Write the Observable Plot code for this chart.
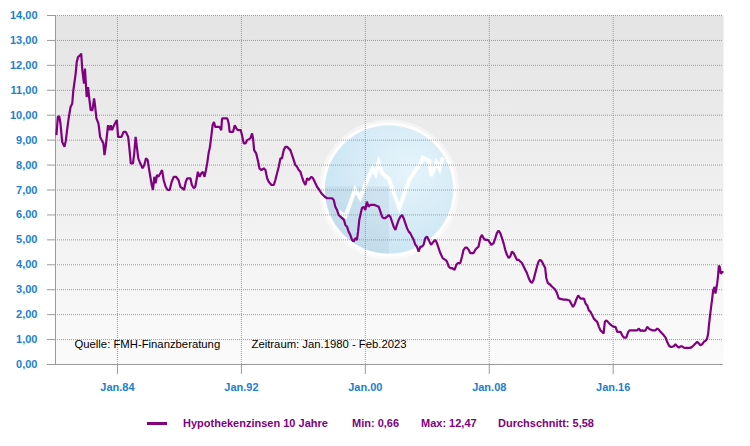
<!DOCTYPE html>
<html>
<head>
<meta charset="utf-8">
<script src="https://cdn.jsdelivr.net/npm/d3@7"></script>
<script src="https://cdn.jsdelivr.net/npm/@observablehq/plot@0.6"></script>
<style>
  html, body { margin: 0; padding: 0; background: #ffffff; }
  body { width: 750px; height: 446px; overflow: hidden; font-family: "Liberation Sans", Arial, sans-serif; }
  #legend { position: relative; height: 46px; width: 750px; }
  #legend .sw { position: absolute; left: 147px; top: 22px; width: 20px; height: 3px; background: #800080; }
  #legend span.t { position: absolute; top: 17px; font: bold 11px "Liberation Sans", Arial, sans-serif; color: #800080; white-space: nowrap; }
</style>
</head>
<body>
<div id="chart"></div>
<div id="legend"></div>
<script>
// ---- data (decimal year, rate in %) ----
const yearsDecimal = [
  1980.06,1980.15,1980.24,1980.32,1980.43,1980.58,1980.67,1980.76,1980.86,1980.97,
  1981.08,1981.15,1981.30,1981.37,1981.45,1981.58,1981.66,1981.73,1981.84,1981.90,
  1982.01,1982.10,1982.18,1982.27,1982.38,1982.49,1982.55,1982.64,1982.77,1982.88,1982.98,
  1983.09,1983.16,1983.24,1983.31,1983.39,1983.48,1983.57,1983.65,1983.78,1983.89,1983.96,
  1984.04,1984.26,1984.39,1984.54,1984.69,1984.78,1984.86,1985.00,1985.08,1985.17,1985.25,
  1985.34,1985.47,1985.62,1985.73,1985.84,1985.95,1986.03,1986.12,1986.21,1986.29,1986.38,
  1986.46,1986.55,1986.64,1986.77,1986.88,1986.98,1987.11,1987.24,1987.37,1987.50,1987.63,
  1987.78,1987.94,1988.06,1988.19,1988.30,1988.41,1988.50,1988.71,1988.80,1988.93,1989.02,
  1989.10,1989.19,1989.30,1989.41,1989.51,1989.62,1989.71,1989.79,1989.88,1989.97,1990.05,
  1990.14,1990.23,1990.31,1990.59,1990.70,1990.75,1991.09,1991.18,1991.24,1991.46,1991.57,
  1991.68,1991.78,1991.96,
  1992.04,1992.15,1992.26,1992.37,1992.58,1992.69,1992.75,1992.82,1992.95,1993.08,1993.16,
  1993.29,1993.44,1993.55,1993.66,1993.76,1993.94,1994.09,1994.19,1994.30,1994.41,1994.52,
  1994.62,1994.73,1994.84,1994.95,1995.05,1995.16,1995.27,1995.38,1995.48,1995.59,1995.70,
  1995.81,1995.91,1996.02,1996.13,1996.24,1996.34,1996.52,1996.62,1996.73,1996.88,1997.03,
  1997.16,1997.27,1997.38,1997.53,1997.64,1997.77,1997.85,1997.96,1998.06,1998.17,1998.28,
  1998.39,1998.50,1998.62,1998.71,1998.82,1998.92,1999.03,1999.14,1999.25,1999.35,1999.46,
  1999.53,1999.61,1999.68,1999.78,1999.89,2000.00,2000.10,2000.21,2000.32,2000.60,2000.86,
  2000.97,2001.08,2001.18,2001.29,2001.40,2001.51,2001.61,2001.72,2001.83,2001.94,2002.04,
  2002.15,2002.26,2002.37,2002.47,2002.58,2002.69,2002.80,2002.90,2003.01,2003.12,2003.23,
  2003.33,2003.44,2003.55,2003.66,2003.76,2003.87,2003.98,2004.09,2004.24,
  2004.40,2004.52,2004.62,2004.73,2004.84,2004.99,2005.16,2005.27,2005.38,2005.48,2005.59,
  2005.76,2005.87,2005.98,2006.13,2006.24,2006.34,2006.45,2006.56,2006.67,2006.77,2006.88,
  2006.99,2007.10,2007.20,2007.31,2007.42,2007.53,2007.63,2007.74,2007.91,2008.00,2008.13,
  2008.28,2008.39,2008.49,2008.60,2008.71,2008.82,2008.92,2009.03,2009.14,2009.25,2009.35,
  2009.46,2009.57,2009.68,2009.78,2009.89,2010.00,2010.11,2010.22,2010.32,2010.43,2010.54,
  2010.65,2010.75,2010.86,2010.97,2011.08,2011.18,2011.29,2011.40,2011.50,2011.61,2011.68,
  2011.78,2011.94,2012.04,2012.15,2012.26,2012.37,2012.47,2012.58,2012.80,2013.01,2013.18,
  2013.40,2013.53,2013.61,2013.74,2013.89,2014.11,2014.22,2014.32,2014.43,2014.54,2014.65,
  2014.75,2014.86,2014.97,2015.08,2015.18,2015.29,2015.38,2015.46,2015.55,2015.66,2015.76,
  2015.89,2016.04,2016.15,2016.26,2016.47,2016.58,2016.69,2016.84,2016.97,2017.05,2017.23,
  2017.40,2017.55,2017.66,2017.76,2017.87,2017.98,2018.09,2018.19,2018.30,2018.41,2018.52,
  2018.73,2018.84,2018.95,2019.05,2019.16,2019.27,2019.38,2019.48,2019.59,2019.70,2019.81,
  2019.91,2020.02,2020.13,2020.24,2020.34,2020.45,2020.56,2020.67,2020.88,2020.99,2021.10,
  2021.20,2021.31,2021.42,2021.53,2021.63,2021.74,2021.85,2021.96,2022.06,2022.13,2022.17,
  2022.24,2022.32,2022.39,2022.45,2022.54,2022.60,2022.65,2022.71,2022.77,2022.82,2022.88,
  2022.95,2023.03,2023.12
];
const rates = [
  9.20,9.93,9.96,9.67,8.93,8.73,9.00,9.47,9.93,10.33,
  10.47,11.00,11.67,12.13,12.33,12.40,12.47,11.80,11.27,11.87,
  10.73,11.13,10.67,10.20,10.20,10.67,10.40,9.87,9.67,9.13,9.00,
  8.87,8.40,8.73,9.13,9.60,9.40,9.60,9.40,9.60,9.73,9.80,
  9.13,9.13,9.33,9.33,9.13,8.60,8.07,8.07,8.47,9.13,8.73,
  8.27,8.07,7.87,8.00,8.27,8.20,7.87,7.53,7.20,7.00,7.53,
  7.27,7.60,7.53,7.67,7.80,7.40,7.13,7.00,7.00,7.33,7.53,
  7.53,7.40,7.13,7.07,7.00,7.33,7.47,7.47,7.20,7.07,7.13,
  7.40,7.73,7.53,7.67,7.73,7.53,7.80,8.07,8.47,8.73,9.13,
  9.60,9.73,9.53,9.53,9.40,9.87,9.87,9.67,9.33,9.33,9.60,
  9.47,9.40,9.40,
  9.20,8.87,8.87,9.00,9.07,9.27,9.07,8.60,8.47,8.13,7.87,
  7.80,7.87,7.80,7.47,7.33,7.20,7.20,7.40,7.67,7.93,8.27,
  8.27,8.60,8.73,8.73,8.67,8.60,8.40,8.20,8.00,7.93,7.80,
  7.73,7.53,7.33,7.20,7.47,7.40,7.53,7.47,7.33,7.13,7.00,
  6.87,6.80,6.73,6.67,6.67,6.67,6.67,6.60,6.33,6.20,6.00,
  5.93,5.87,5.80,5.60,5.53,5.33,5.20,5.00,4.93,5.07,5.00,
  5.33,5.80,6.00,6.27,6.33,6.20,6.53,6.33,6.40,6.40,6.33,
  6.13,5.93,5.87,5.87,5.93,6.00,5.93,5.73,5.53,5.40,5.60,
  5.80,5.93,6.00,5.87,5.67,5.47,5.33,5.27,5.13,5.00,4.80,
  4.73,4.53,4.73,4.73,4.80,5.07,5.13,5.00,4.80,
  4.93,5.00,4.87,4.67,4.47,4.27,4.20,4.13,3.93,3.87,3.87,
  3.80,4.00,4.07,4.07,4.33,4.60,4.69,4.69,4.60,4.47,4.47,
  4.47,4.60,4.67,4.73,5.07,5.20,5.07,5.00,5.00,4.93,4.80,
  4.87,5.07,5.27,5.37,5.27,5.07,4.87,4.60,4.40,4.27,4.33,
  4.53,4.47,4.33,4.20,4.20,4.13,4.07,3.93,3.80,3.67,3.47,
  3.33,3.27,3.40,3.67,3.93,4.13,4.20,4.13,4.00,3.87,3.47,
  3.27,3.20,3.13,3.07,3.00,2.87,2.67,2.63,2.60,2.60,2.57,
  2.31,2.44,2.60,2.77,2.64,2.64,2.44,2.37,2.17,2.11,1.97,
  1.84,1.77,1.71,1.51,1.37,1.31,1.24,1.71,1.77,1.71,1.64,
  1.57,1.51,1.51,1.31,1.31,1.17,1.08,1.08,1.31,1.37,1.37,
  1.37,1.37,1.44,1.35,1.37,1.35,1.37,1.51,1.44,1.40,1.37,
  1.37,1.44,1.40,1.31,1.24,1.17,1.08,0.91,0.77,0.71,0.71,
  0.73,0.81,0.73,0.68,0.73,0.73,0.68,0.67,0.67,0.67,0.71,
  0.77,0.84,0.91,0.84,0.77,0.81,0.91,0.95,1.04,1.24,1.51,
  1.91,2.31,2.64,2.97,3.11,2.84,3.04,3.24,3.57,3.97,3.91,
  3.64,3.71,3.71
];
const xDomainYears = [1980.0, 2023.12];
const xTickYears = [1984, 1992, 2000, 2008, 2016];
const yTicks = [0,1,2,3,4,5,6,7,8,9,10,11,12,13,14];
const seriesName = "Hypothekenzinsen 10 Jahre";
const legendStats = ["Min: 0,66", "Max: 12,47", "Durchschnitt: 5,58"];
const notes = ["Quelle: FMH-Finanzberatung", "Zeitraum: Jan.1980 - Feb.2023"];
// decorative watermark logo outline (relative to logo radius)
const logoShape = [[-0.79,0.34],[-0.68,0.42],[-0.53,0],[-0.45,0.13],[-0.37,-0.08],[-0.26,-0.32],[-0.21,-0.24],[-0.16,-0.42],[-0.11,-0.26],[0,-0.16],[0.16,0.29],[0.32,-0.16],[0.5,-0.42],[0.53,-0.5],[0.63,-0.45],[0.66,-0.21],[0.74,-0.42],[0.79,-0.32],[0.84,-0.5]];

// ---- helpers ----
function decToDate(t) {
  const y = Math.floor(t);
  const s = Date.UTC(y, 0, 1), e = Date.UTC(y + 1, 0, 1);
  return new Date(s + (t - y) * (e - s));
}
const data = yearsDecimal.map((t, i) => ({date: decToDate(t), rate: rates[i]}));
const xTicks = xTickYears.map(y => new Date(Date.UTC(y, 0, 1)));
const fmtY = d => d.toFixed(2).replace(".", ",");
const fmtX = d => "Jan." + String(d.getUTCFullYear()).slice(2);

const FONT = "Liberation Sans, Arial, sans-serif";
const BLUE = "#1c7fd0";
const GRID = "#9a9a9a";

const chart = Plot.plot({
  width: 750,
  height: 400,
  marginTop: 15,
  marginLeft: 55,
  marginRight: 27,
  marginBottom: 36,
  style: {fontFamily: FONT, background: "transparent", overflow: "visible"},
  x: {type: "utc", domain: xDomainYears.map(decToDate)},
  y: {domain: [0, 14]},
  marks: [
    Plot.frame({fill: "url(#bgGrad)", stroke: "none"}),
    Plot.gridY(yTicks.filter(d => d > 0), {stroke: GRID, strokeOpacity: 1, strokeDasharray: "1,1"}),
    Plot.gridX(xTicks, {stroke: GRID, strokeOpacity: 1, strokeDasharray: "1,1"}),
    Plot.ruleX([decToDate(xDomainYears[0])], {stroke: GRID}),
    Plot.ruleY([0], {stroke: GRID}),
    Plot.axisY(yTicks, {tickFormat: fmtY, tickSize: 8, tickPadding: 10, stroke: GRID, fill: BLUE, fontWeight: "bold", fontSize: 11, label: null}),
    Plot.axisX(xTicks, {tickFormat: fmtX, tickSize: 10, tickPadding: 9, stroke: GRID, fill: BLUE, fontWeight: "bold", fontSize: 11, label: null}),
    Plot.text([notes[0]], {frameAnchor: "bottom-left", dx: 19, dy: -17, textAnchor: "start", fill: "#000", fontSize: 11.3}),
    Plot.text([notes[1]], {frameAnchor: "bottom-left", dx: 196, dy: -17, textAnchor: "start", fill: "#000", fontSize: 11.3}),
    Plot.line(data, {x: "date", y: "rate", stroke: "#800080", strokeWidth: 2.2, strokeLinejoin: "miter", strokeLinecap: "butt"})
  ]
});
document.getElementById("chart").appendChild(chart);

// gradient background + watermark (decorative)
const svg = d3.select(chart);
const defs = svg.insert("defs", ":first-child");
const bg = defs.append("linearGradient").attr("id", "bgGrad").attr("x1", 0).attr("y1", 0).attr("x2", 0).attr("y2", 1);
bg.append("stop").attr("offset", "0%").attr("stop-color", "#e4e4e4");
bg.append("stop").attr("offset", "100%").attr("stop-color", "#fbfbfb");
const wg = defs.append("radialGradient").attr("id", "wmGrad").attr("cx", "0.65").attr("cy", "0.35").attr("r", "0.8");
wg.append("stop").attr("offset", "0%").attr("stop-color", "#e6f4fb");
wg.append("stop").attr("offset", "100%").attr("stop-color", "#c6e3f2");
defs.append("clipPath").attr("id", "wmClip").append("circle").attr("r", 64);

const xr = chart.scale("x").range, yr = chart.scale("y").range;
const cx = (xr[0] + xr[1]) / 2, cy = (yr[0] + yr[1]) / 2;
const R = 64;
const frameEl = chart.querySelector('[aria-label="frame"]');
const wm = document.createElementNS("http://www.w3.org/2000/svg", "g");
chart.insertBefore(wm, frameEl.nextSibling);
const w = d3.select(wm).attr("transform", `translate(${cx},${cy})`);
w.append("circle").attr("r", R + 4).attr("fill", "none").attr("stroke", "#ffffff").attr("stroke-width", 4).attr("opacity", 0.45);
w.append("circle").attr("r", R + 1.5).attr("fill", "none").attr("stroke", "#ffffff").attr("stroke-width", 3).attr("opacity", 0.9);
w.append("circle").attr("r", R).attr("fill", "url(#wmGrad)");
w.append("rect").attr("x", -R).attr("y", -3).attr("width", R).attr("height", R + 3)
  .attr("fill", "#b0c4d8").attr("opacity", 0.28).attr("clip-path", "url(#wmClip)");
w.append("path").attr("d", d3.line()(logoShape.map(([a, b]) => [a * R, b * R])))
  .attr("fill", "none").attr("stroke", "#ffffff").attr("stroke-width", 4).attr("stroke-linejoin", "miter").attr("opacity", 0.95);

// legend
const lg = document.getElementById("legend");
lg.innerHTML = '<div class="sw"></div>' +
  `<span class="t" style="left:183px">${seriesName}</span>` +
  `<span class="t" style="left:352px">${legendStats[0]}</span>` +
  `<span class="t" style="left:421px">${legendStats[1]}</span>` +
  `<span class="t" style="left:498px">${legendStats[2]}</span>`;
</script>
</body>
</html>
